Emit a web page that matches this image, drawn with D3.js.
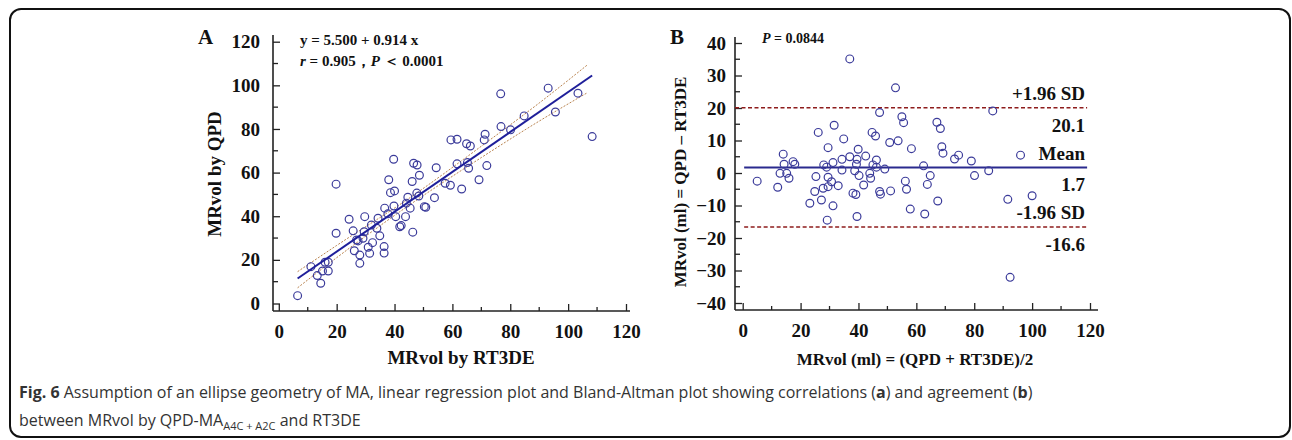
<!DOCTYPE html>
<html>
<head>
<meta charset="utf-8">
<script src="https://cdn.jsdelivr.net/npm/d3@7"></script>
<style>
  body { margin: 0; background: #fff; }
  .serif { font-family: "Times New Roman", "Liberation Serif", serif; font-weight: bold; fill: #111; }
  .tick text { font-family: "Times New Roman", "Liberation Serif", serif; font-weight: bold; font-size: 19px; fill: #111; }
  .tick line { stroke: #222; stroke-width: 1.3; }
  .caption { font-family: "Liberation Sans Narrow", "Open Sans", sans-serif; font-size: 16px; fill: #333; }
</style>
</head>
<body>
<svg id="chart" width="1292" height="440"></svg>
<script>
// Panel A: regression, MRvol by RT3DE (x) vs QPD (y)
var rt3de = [6.5, 11.1, 13.3, 14.5, 15.1, 16.0, 17.1, 17.1, 19.8, 19.8, 24.3, 25.7, 26.1, 26.9, 28.0, 28.0,
  29.7, 29.5, 30.9, 31.4, 32.0, 32.4, 33.9, 34.3, 34.9, 36.4, 36.4, 36.6, 37.7, 38.0, 38.6, 39.7, 39.8,
  40.0, 40.4, 41.8, 42.3, 43.8, 44.1, 44.6, 45.4, 46.1, 46.3, 46.6, 47.8, 48.4, 48.6, 50.3, 53.8, 54.4,
  57.5, 59.3, 59.5, 61.6, 61.6, 63.2, 64.9, 66.2, 65.2, 65.6, 69.2, 71.3, 71.0, 71.9, 76.7, 76.8, 80.1,
  84.8, 93.1, 95.6, 103.4, 108.3, 47.7, 29.1, 27.4, 50.8];
var qpd = [3.6, 16.9, 12.8, 9.3, 14.9, 18.9, 14.9, 18.9, 54.7, 32.2, 38.6, 33.3, 24.2, 29.1, 22.2, 18.4,
  39.8, 32.9, 25.8, 23.0, 36.0, 27.9, 34.5, 39.1, 31.0, 26.1, 23.1, 43.7, 41.1, 56.7, 50.8, 66.1, 44.7,
  51.6, 39.8, 35.2, 35.7, 39.8, 46.0, 48.7, 43.7, 55.9, 32.7, 64.3, 63.5, 49.3, 58.8, 44.4, 48.5, 62.2,
  55.1, 54.2, 75.0, 75.3, 64.0, 52.5, 73.2, 72.2, 64.6, 62.0, 56.7, 77.6, 75.0, 63.2, 96.1, 81.1, 79.6,
  86.0, 98.7, 87.8, 96.4, 76.5, 50.6, 29.9, 28.7, 44.1];
var fitIntercept = 5.5, fitSlope = 0.914;
var fitRange = [6.5, 108.3];
// 95% confidence band
var bandX = [6.5, 20, 45, 70, 90, 106.5];
var bandUpper = [14.6, 26.6, 48.2, 72.1, 91.9, 109.2];
var bandLower = [7.2, 21.0, 45.0, 66.9, 83.6, 96.5];

// Panel B: Bland-Altman, mean (x) vs difference (y)
var baMean = [37.0, 52.8, 47.3, 55.0, 55.6, 67.1, 68.3, 86.4, 26.1, 31.6, 44.7, 45.9, 34.9, 50.8, 53.7,
  29.5, 39.9, 58.3, 68.8, 69.2, 14.0, 42.5, 37.0, 34.3, 39.5, 73.2, 74.6, 79.0, 96.0, 17.4, 14.3, 18.0,
  28.0, 31.2, 39.3, 46.2, 45.0, 46.2, 49.1, 62.5, 29.0, 34.3, 38.7, 85.0, 12.9, 15.2, 43.9, 5.0, 16.0,
  25.3, 40.2, 44.2, 64.8, 80.1, 12.1, 29.5, 30.7, 29.5, 27.8, 33.0, 41.8, 56.2, 56.6, 63.8, 24.9, 38.1,
  39.1, 47.3, 47.6, 51.1, 27.2, 23.2, 31.2, 67.4, 91.6, 100.0, 57.9, 62.9, 39.5, 29.2, 92.4];
var baDiff = [35.1, 26.2, 18.6, 17.3, 15.5, 15.6, 13.7, 19.1, 12.5, 14.7, 12.5, 11.4, 10.5, 9.4, 9.9,
  7.8, 7.3, 7.5, 8.1, 6.1, 5.8, 5.2, 5.0, 4.2, 4.2, 4.3, 5.5, 3.7, 5.5, 3.5, 2.7, 2.7, 2.5, 3.2, 2.7,
  4.0, 2.5, 1.8, 1.2, 2.2, 1.8, 0.9, 0.7, 0.7, -0.1, -0.1, -0.1, -2.5, -1.6, -1.1, -0.8, -1.6, -0.8,
  -0.8, -4.4, -1.3, -2.7, -4.2, -4.7, -3.9, -3.7, -2.5, -5.0, -3.5, -5.7, -6.2, -6.6, -5.7, -6.5, -5.5,
  -8.3, -9.3, -10.1, -8.6, -8.1, -7.0, -11.1, -12.6, -13.4, -14.5, -32.1];
var baLines = [
  {value: 20.1, label: "+1.96 SD", dashed: true},
  {value: 1.7, label: "Mean", dashed: false},
  {value: -16.6, label: "-1.96 SD", dashed: true}
];
var ticksA = [0, 20, 40, 60, 80, 100, 120];
var ticksBy = [-40, -30, -20, -10, 0, 10, 20, 30, 40];

var svg = d3.select("#chart");
var ptColor = "#3b3b9a";

// outer frame
svg.append("rect")
  .attr("x", 10).attr("y", 9).attr("width", 1280).attr("height", 428)
  .attr("rx", 11).attr("fill", "none").attr("stroke", "#111").attr("stroke-width", 2);

function drawAxes(g, x, y, opts) {
  // y axis, ticks pointing inwards
  var yAx = d3.axisLeft(y).tickValues(opts.yMajor).tickSizeInner(-7).tickSizeOuter(0).tickPadding(opts.yPad);
  var gy = g.append("g").attr("transform", "translate(" + opts.axisX + ",0)").call(yAx);
  gy.select(".domain").remove();
  g.append("g").selectAll("line").data(opts.yMinor).join("line")
    .attr("x1", opts.axisX).attr("x2", opts.axisX + 5)
    .attr("y1", y).attr("y2", y).attr("stroke", "#222").attr("stroke-width", 1.3);

  var xAx = d3.axisBottom(x).tickValues(opts.xMajor).tickSizeInner(-7).tickSizeOuter(0);
  var gx = g.append("g").attr("transform", "translate(0," + opts.axisY + ")").call(xAx);
  gx.select(".domain").remove();
  gx.selectAll(".tick text").attr("y", 27).attr("dy", 0);
  g.append("g").selectAll("line").data(opts.xMinor).join("line")
    .attr("x1", x).attr("x2", x)
    .attr("y1", opts.axisY).attr("y2", opts.axisY - 4).attr("stroke", "#222").attr("stroke-width", 1.3);

  g.append("line").attr("x1", opts.axisX).attr("x2", opts.axisX)
    .attr("y1", opts.axisTop).attr("y2", opts.axisY).attr("stroke", "#222").attr("stroke-width", 1.6);
  g.append("line").attr("x1", opts.axisX).attr("x2", opts.axisRight)
    .attr("y1", opts.axisY).attr("y2", opts.axisY).attr("stroke", "#222").attr("stroke-width", 1.6);
}

// ---------- Panel A ----------
var gA = svg.append("g");
var xA = d3.scaleLinear().domain([0, 120]).range([278.8, 626]);
var yA = d3.scaleLinear().domain([0, 120]).range([303.5, 41.7]);

drawAxes(gA, xA, yA, {
  yMajor: ticksA, yMinor: [10, 30, 50, 70, 90, 110], xMajor: ticksA, xMinor: [10, 30, 50, 70, 90, 110],
  axisX: 273, axisY: 311, axisTop: 35, axisRight: 630, yPad: 13
});

var bandLine = d3.line().x(function(d) { return xA(d[0]); }).y(function(d) { return yA(d[1]); })
  .curve(d3.curveMonotoneX);
[bandUpper, bandLower].forEach(function(b) {
  gA.append("path").datum(bandX.map(function(v, i) { return [v, b[i]]; }))
    .attr("d", bandLine).attr("fill", "none")
    .attr("stroke", "#b9834f").attr("stroke-width", 1).attr("stroke-dasharray", "2,1.5");
});

gA.selectAll("circle").data(rt3de).join("circle")
  .attr("cx", function(d) { return xA(d); })
  .attr("cy", function(d, i) { return yA(qpd[i]); })
  .attr("r", 3.9).attr("fill", "none").attr("stroke", ptColor).attr("stroke-width", 1.2);

gA.append("line")
  .attr("x1", xA(fitRange[0])).attr("y1", yA(fitIntercept + fitSlope * fitRange[0]))
  .attr("x2", xA(fitRange[1])).attr("y2", yA(fitIntercept + fitSlope * fitRange[1]))
  .attr("stroke", "#1f1f9a").attr("stroke-width", 2);

gA.append("text").attr("class", "serif").attr("x", 198).attr("y", 44).style("font-size", "21px").text("A");
gA.append("text").attr("class", "serif").attr("x", 300).attr("y", 45).style("font-size", "15px")
  .text("y = 5.500 + 0.914 x");
var t2 = gA.append("text").attr("class", "serif").attr("x", 300).attr("y", 65.5).style("font-size", "15px");
t2.append("tspan").style("font-style", "italic").text("r");
t2.append("tspan").text(" =  0.905，");
t2.append("tspan").style("font-style", "italic").text("P");
t2.append("tspan").text(" ＜ 0.0001");

gA.append("text").attr("class", "serif").attr("x", 461).attr("y", 364)
  .attr("text-anchor", "middle").style("font-size", "19px").text("MRvol by RT3DE");
gA.append("text").attr("class", "serif")
  .attr("transform", "translate(221,174) rotate(-90)")
  .attr("text-anchor", "middle").style("font-size", "19px").text("MRvol by QPD");

// ---------- Panel B ----------
var gB = svg.append("g");
var xB = d3.scaleLinear().domain([0, 120]).range([742.7, 1090]);
var yB = d3.scaleLinear().domain([-40, 40]).range([303, 43]);

drawAxes(gB, xB, yB, {
  yMajor: ticksBy, yMinor: [-35, -25, -15, -5, 5, 15, 25, 35], xMajor: ticksA, xMinor: [10, 30, 50, 70, 90, 110],
  axisX: 735, axisY: 310, axisTop: 37, axisRight: 1098, yPad: 9
});

baLines.forEach(function(l) {
  gB.append("line")
    .attr("x1", l.dashed && l.value > 0 ? 735 : xB(0.5)).attr("x2", xB(119))
    .attr("y1", yB(l.value)).attr("y2", yB(l.value))
    .attr("stroke", l.dashed ? "#8e1c1c" : "#2a2a8e").attr("stroke-width", l.dashed ? 1.6 : 2)
    .attr("stroke-dasharray", l.dashed ? "4,2.5" : null);
  gB.append("text").attr("class", "serif").attr("x", 1085).attr("y", yB(l.value) - 7.5)
    .attr("text-anchor", "end").style("font-size", "19px").text(l.label);
  gB.append("text").attr("class", "serif").attr("x", 1085).attr("y", yB(l.value) + 24)
    .attr("text-anchor", "end").style("font-size", "19px").text(l.value.toFixed(1));
});

gB.selectAll("circle").data(baMean).join("circle")
  .attr("cx", function(d) { return xB(d); })
  .attr("cy", function(d, i) { return yB(baDiff[i]); })
  .attr("r", 3.9).attr("fill", "none").attr("stroke", ptColor).attr("stroke-width", 1.2);

gB.append("text").attr("class", "serif").attr("x", 670).attr("y", 44).style("font-size", "21px").text("B");
var tp = gB.append("text").attr("class", "serif").attr("x", 762).attr("y", 42.5).style("font-size", "14px");
tp.append("tspan").style("font-style", "italic").text("P");
tp.append("tspan").text(" = 0.0844");

gB.append("text").attr("class", "serif").attr("x", 915).attr("y", 365)
  .attr("text-anchor", "middle").style("font-size", "17px").text("MRvol (ml) = (QPD + RT3DE)/2");
gB.append("text").attr("class", "serif")
  .attr("transform", "translate(686,182) rotate(-90)")
  .attr("text-anchor", "middle").style("font-size", "17px").text("MRvol (ml) = QPD – RT3DE");

// ---------- Caption ----------
var c1 = svg.append("text").attr("class", "caption").attr("x", 19).attr("y", 398);
c1.append("tspan").style("font-weight", "bold").text("Fig. 6");
c1.append("tspan").text(" Assumption of an ellipse geometry of MA, linear regression plot and Bland-Altman plot showing correlations (");
c1.append("tspan").style("font-weight", "bold").text("a");
c1.append("tspan").text(") and agreement (");
c1.append("tspan").style("font-weight", "bold").text("b");
c1.append("tspan").text(")");
var c2 = svg.append("text").attr("class", "caption").attr("x", 19).attr("y", 426);
c2.append("tspan").text("between MRvol by QPD-MA");
c2.append("tspan").attr("dy", 4).style("font-size", "11px").text("A4C + A2C");
c2.append("tspan").attr("dy", -4).text(" and RT3DE");
</script>
</body>
</html>
